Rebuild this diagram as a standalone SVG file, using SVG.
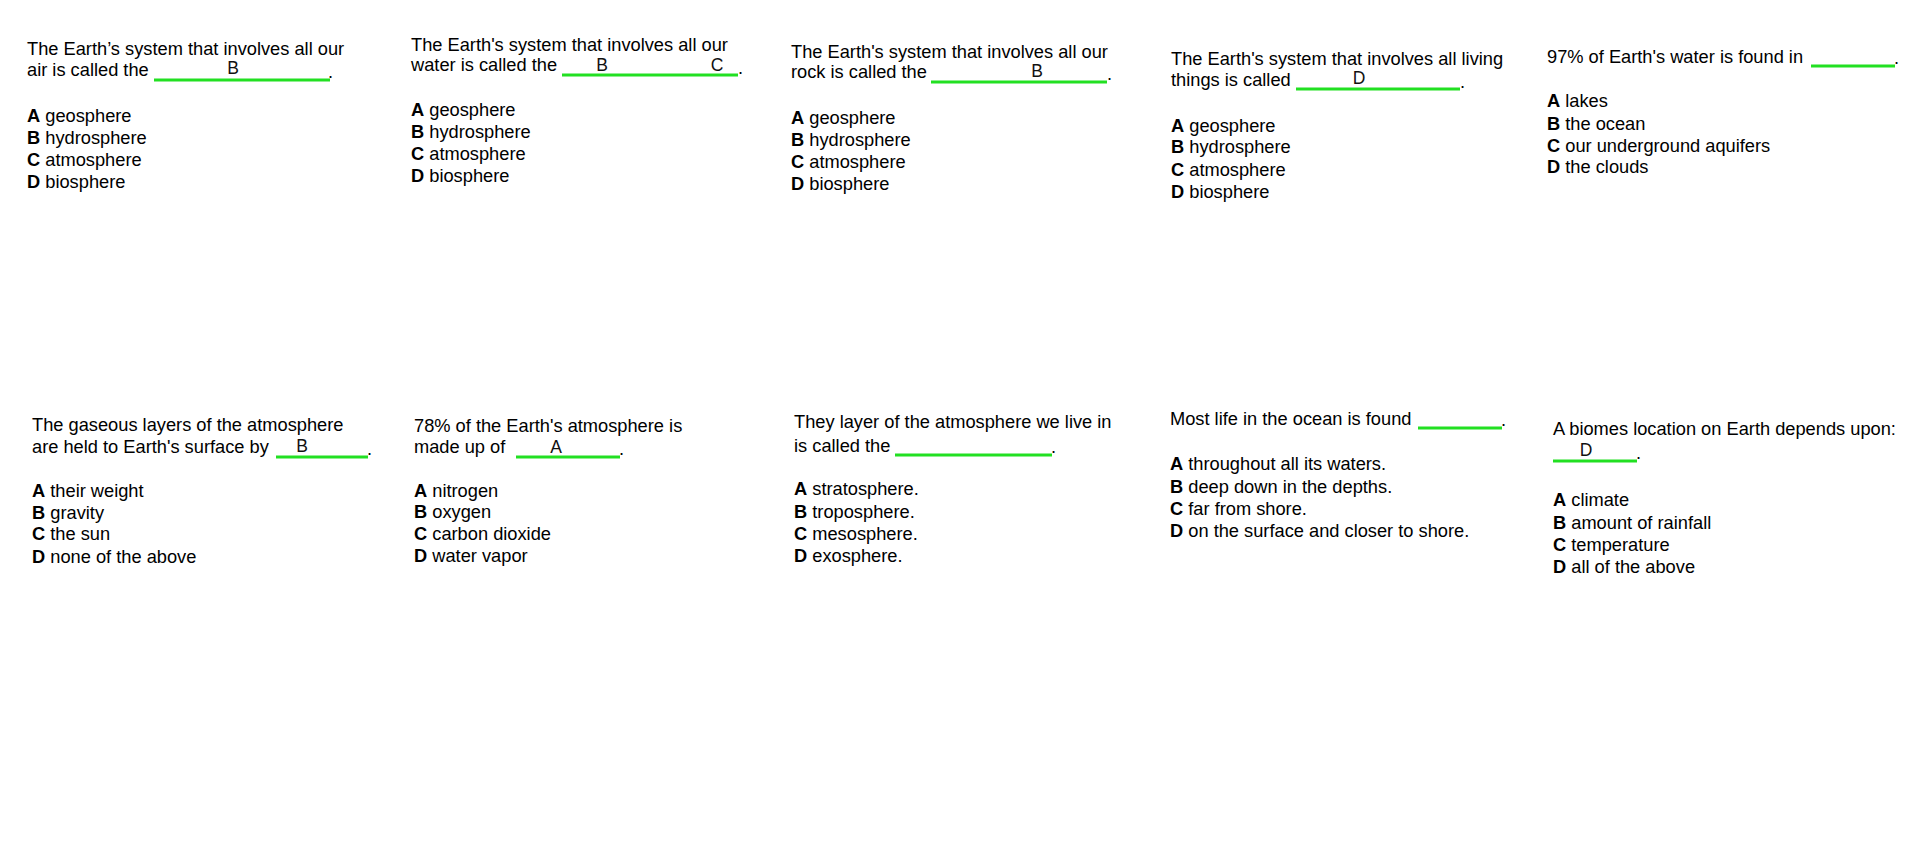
<svg xmlns="http://www.w3.org/2000/svg" width="1915" height="863" viewBox="0 0 1915 863">
<style>
.q{font-family:"Liberation Sans",Arial,sans-serif;font-size:18.25px;fill:#000}
.b{font-weight:bold}
.ans{font-family:"Liberation Sans",Arial,sans-serif;font-size:17.5px;fill:#111;text-anchor:middle}
.blank{stroke:#22e022;stroke-width:3;fill:none}
</style>
<rect x="0" y="0" width="1915" height="863" fill="#fff"/>

<g id="q1">
<text class="q" x="27" y="55">The Earth’s system that involves all our</text>
<text class="q" x="27" y="76">air is called the</text>
<line class="blank" x1="154" y1="80" x2="330" y2="80"/>
<text class="ans" x="233" y="74">B</text>
<text class="q" x="328" y="78">.</text>
<text class="q" x="27" y="122"><tspan class="b">A</tspan> geosphere</text>
<text class="q" x="27" y="144"><tspan class="b">B</tspan> hydrosphere</text>
<text class="q" x="27" y="166"><tspan class="b">C</tspan> atmosphere</text>
<text class="q" x="27" y="188"><tspan class="b">D</tspan> biosphere</text>
</g>

<g id="q2">
<text class="q" x="411" y="51">The Earth's system that involves all our</text>
<text class="q" x="411" y="71">water is called the</text>
<line class="blank" x1="562" y1="75" x2="738" y2="75"/>
<text class="ans" x="602" y="71">B</text>
<text class="ans" x="717" y="71">C</text>
<text class="q" x="738" y="74">.</text>
<text class="q" x="411" y="116"><tspan class="b">A</tspan> geosphere</text>
<text class="q" x="411" y="138"><tspan class="b">B</tspan> hydrosphere</text>
<text class="q" x="411" y="160"><tspan class="b">C</tspan> atmosphere</text>
<text class="q" x="411" y="182"><tspan class="b">D</tspan> biosphere</text>
</g>

<g id="q3">
<text class="q" x="791" y="58">The Earth's system that involves all our</text>
<text class="q" x="791" y="78">rock is called the</text>
<line class="blank" x1="931" y1="82" x2="1107" y2="82"/>
<text class="ans" x="1037" y="77">B</text>
<text class="q" x="1107" y="80">.</text>
<text class="q" x="791" y="124"><tspan class="b">A</tspan> geosphere</text>
<text class="q" x="791" y="146"><tspan class="b">B</tspan> hydrosphere</text>
<text class="q" x="791" y="168"><tspan class="b">C</tspan> atmosphere</text>
<text class="q" x="791" y="190"><tspan class="b">D</tspan> biosphere</text>
</g>

<g id="q4">
<text class="q" x="1171" y="65">The Earth's system that involves all living</text>
<text class="q" x="1171" y="86">things is called</text>
<line class="blank" x1="1296" y1="89" x2="1460" y2="89"/>
<text class="ans" x="1359" y="84">D</text>
<text class="q" x="1460" y="88">.</text>
<text class="q" x="1171" y="132"><tspan class="b">A</tspan> geosphere</text>
<text class="q" x="1171" y="153"><tspan class="b">B</tspan> hydrosphere</text>
<text class="q" x="1171" y="176"><tspan class="b">C</tspan> atmosphere</text>
<text class="q" x="1171" y="198"><tspan class="b">D</tspan> biosphere</text>
</g>

<g id="q5">
<text class="q" x="1547" y="63">97% of Earth's water is found in</text>
<line class="blank" x1="1811" y1="66" x2="1895" y2="66"/>
<text class="q" x="1894" y="64">.</text>
<text class="q" x="1547" y="107"><tspan class="b">A</tspan> lakes</text>
<text class="q" x="1547" y="130"><tspan class="b">B</tspan> the ocean</text>
<text class="q" x="1547" y="152"><tspan class="b">C</tspan> our underground aquifers</text>
<text class="q" x="1547" y="173"><tspan class="b">D</tspan> the clouds</text>
</g>

<g id="q6">
<text class="q" x="32" y="431">The gaseous layers of the atmosphere</text>
<text class="q" x="32" y="453">are held to Earth's surface by</text>
<line class="blank" x1="276" y1="457" x2="368" y2="457"/>
<text class="ans" x="302" y="452">B</text>
<text class="q" x="367" y="455">.</text>
<text class="q" x="32" y="497"><tspan class="b">A</tspan> their weight</text>
<text class="q" x="32" y="519"><tspan class="b">B</tspan> gravity</text>
<text class="q" x="32" y="540"><tspan class="b">C</tspan> the sun</text>
<text class="q" x="32" y="563"><tspan class="b">D</tspan> none of the above</text>
</g>

<g id="q7">
<text class="q" x="414" y="432">78% of the Earth's atmosphere is</text>
<text class="q" x="414" y="453">made up of</text>
<line class="blank" x1="516" y1="457" x2="620" y2="457"/>
<text class="ans" x="556" y="453">A</text>
<text class="q" x="619" y="455">.</text>
<text class="q" x="414" y="497"><tspan class="b">A</tspan> nitrogen</text>
<text class="q" x="414" y="518"><tspan class="b">B</tspan> oxygen</text>
<text class="q" x="414" y="540"><tspan class="b">C</tspan> carbon dioxide</text>
<text class="q" x="414" y="562"><tspan class="b">D</tspan> water vapor</text>
</g>

<g id="q8">
<text class="q" x="794" y="428">They layer of the atmosphere we live in</text>
<text class="q" x="794" y="452">is called the</text>
<line class="blank" x1="895" y1="455" x2="1052" y2="455"/>
<text class="q" x="1051" y="453">.</text>
<text class="q" x="794" y="495"><tspan class="b">A</tspan> stratosphere.</text>
<text class="q" x="794" y="518"><tspan class="b">B</tspan> troposphere.</text>
<text class="q" x="794" y="540"><tspan class="b">C</tspan> mesosphere.</text>
<text class="q" x="794" y="562"><tspan class="b">D</tspan> exosphere.</text>
</g>

<g id="q9">
<text class="q" x="1170" y="425">Most life in the ocean is found</text>
<line class="blank" x1="1418" y1="428" x2="1502" y2="428"/>
<text class="q" x="1501" y="426">.</text>
<text class="q" x="1170" y="470"><tspan class="b">A</tspan> throughout all its waters.</text>
<text class="q" x="1170" y="493"><tspan class="b">B</tspan> deep down in the depths.</text>
<text class="q" x="1170" y="515"><tspan class="b">C</tspan> far from shore.</text>
<text class="q" x="1170" y="537"><tspan class="b">D</tspan> on the surface and closer to shore.</text>
</g>

<g id="q10">
<text class="q" x="1553" y="435">A biomes location on Earth depends upon:</text>
<line class="blank" x1="1553" y1="461" x2="1637" y2="461"/>
<text class="ans" x="1586" y="456">D</text>
<text class="q" x="1636" y="459">.</text>
<text class="q" x="1553" y="506"><tspan class="b">A</tspan> climate</text>
<text class="q" x="1553" y="529"><tspan class="b">B</tspan> amount of rainfall</text>
<text class="q" x="1553" y="551"><tspan class="b">C</tspan> temperature</text>
<text class="q" x="1553" y="573"><tspan class="b">D</tspan> all of the above</text>
</g>
</svg>
